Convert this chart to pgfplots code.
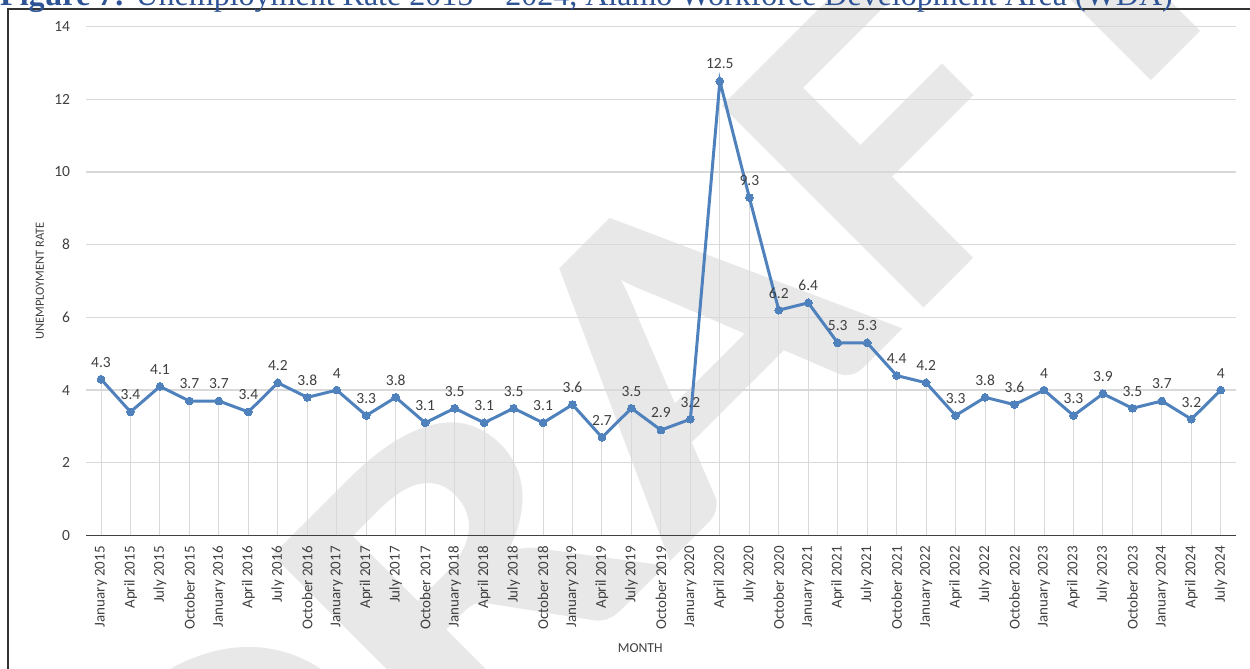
\documentclass[border=0pt]{standalone}
\usepackage{graphicx}
\usepackage{pgfplots}
\pgfplotsset{compat=1.18}
\usepackage{pgfplotstable}
\usepackage{fontspec}
\setmainfont{Carlito}
\newfontfamily\titlefont{Liberation Serif}
\definecolor{lineblue}{RGB}{79,129,189}
\definecolor{titleblue}{RGB}{47,84,150}
\definecolor{gridgray}{RGB}{217,217,217}
\definecolor{wmgray}{RGB}{232,232,232}
\definecolor{txt}{RGB}{64,64,64}

\pgfplotstableread{
x y
0 4.3
1 3.4
2 4.1
3 3.7
4 3.7
5 3.4
6 4.2
7 3.8
8 4
9 3.3
10 3.8
11 3.1
12 3.5
13 3.1
14 3.5
15 3.1
16 3.6
17 2.7
18 3.5
19 2.9
20 3.2
21 12.5
22 9.3
23 6.2
24 6.4
25 5.3
26 5.3
27 4.4
28 4.2
29 3.3
30 3.8
31 3.6
32 4
33 3.3
34 3.9
35 3.5
36 3.7
37 3.2
38 4
}\datatable

\begin{document}
\begin{tikzpicture}[x=1pt,y=1pt]
\useasboundingbox (0,0) rectangle (1250,669);
% watermark
\node[rotate=45, text=wmgray, inner sep=0pt, font=\fontsize{440}{440}\selectfont\bfseries] at (640,278.5) {\scalebox{1.24}[1]{DRAFT}};
% frame
\draw[line width=2pt, black!80] (8.3,0) -- (8.3,659.7) -- (1260,659.7);
% title (partly cut off at the top)
\node[anchor=base west, inner sep=0pt, text=titleblue, font=\titlefont\fontsize{32}{32}\selectfont] at (0,663) {\textbf{Figure 7:} Unemployment Rate 2015 – 2024, Alamo Workforce Development Area (WDA)};
\begin{axis}[
  at={(86.3pt,133.5pt)}, anchor=south west,
  scale only axis, width=1149.3pt, height=508.9pt,
  xmin=-0.5, xmax=38.5, ymin=0, ymax=14,
  ytick={0,2,...,14},
  xtick={0,...,38},
  xticklabels={January 2015, April 2015, July 2015, October 2015,
    January 2016, April 2016, July 2016, October 2016,
    January 2017, April 2017, July 2017, October 2017,
    January 2018, April 2018, July 2018, October 2018,
    January 2019, April 2019, July 2019, October 2019,
    January 2020, April 2020, July 2020, October 2020,
    January 2021, April 2021, July 2021, October 2021,
    January 2022, April 2022, July 2022, October 2022,
    January 2023, April 2023, July 2023, October 2023,
    January 2024, April 2024, July 2024},
  /pgf/number format/assume math mode=true,
  xticklabel style={yshift=-10.5pt, rotate=90, anchor=east, inner sep=0pt, font=\fontsize{15}{15}\selectfont, text=txt},
  yticklabel style={anchor=east, inner sep=0pt, xshift=-16pt, font=\fontsize{15.5}{15.5}\selectfont, text=txt},
  major tick length=0pt,
  ymajorgrids, grid style={gridgray, line width=1.3pt},
  axis x line*=bottom, axis y line*=left,
  x axis line style={black!75, line width=1.5pt, -},
  y axis line style={draw=none},
  ylabel={UNEMPLOYMENT RATE},
  ylabel style={at={(axis description cs:-0.0403,0.5)}, anchor=center, font=\fontsize{12.5}{12.5}\selectfont, text=txt},
  xlabel={MONTH},
  xlabel style={at={(axis description cs:0.482,-0.221)}, anchor=center, font=\fontsize{13.7}{13.7}\selectfont, text=txt},
  clip=false,
]
\addplot[ycomb, gridgray, line width=1pt, no marks] table[x=x,y=y] {\datatable};
\addplot[lineblue, line width=3pt, mark=*, mark size=3.9pt,
  mark options={fill=lineblue, draw=lineblue, line width=0pt},
  nodes near coords={\pgfmathprintnumber[assume math mode=true]{\pgfplotspointmeta}},
  every node near coord/.append style={font=\fontsize{15.5}{15.5}\selectfont, text=txt, inner sep=0pt, anchor=south, yshift=12pt}]
  table[x=x,y=y] {\datatable};
\end{axis}
\end{tikzpicture}
\end{document}
